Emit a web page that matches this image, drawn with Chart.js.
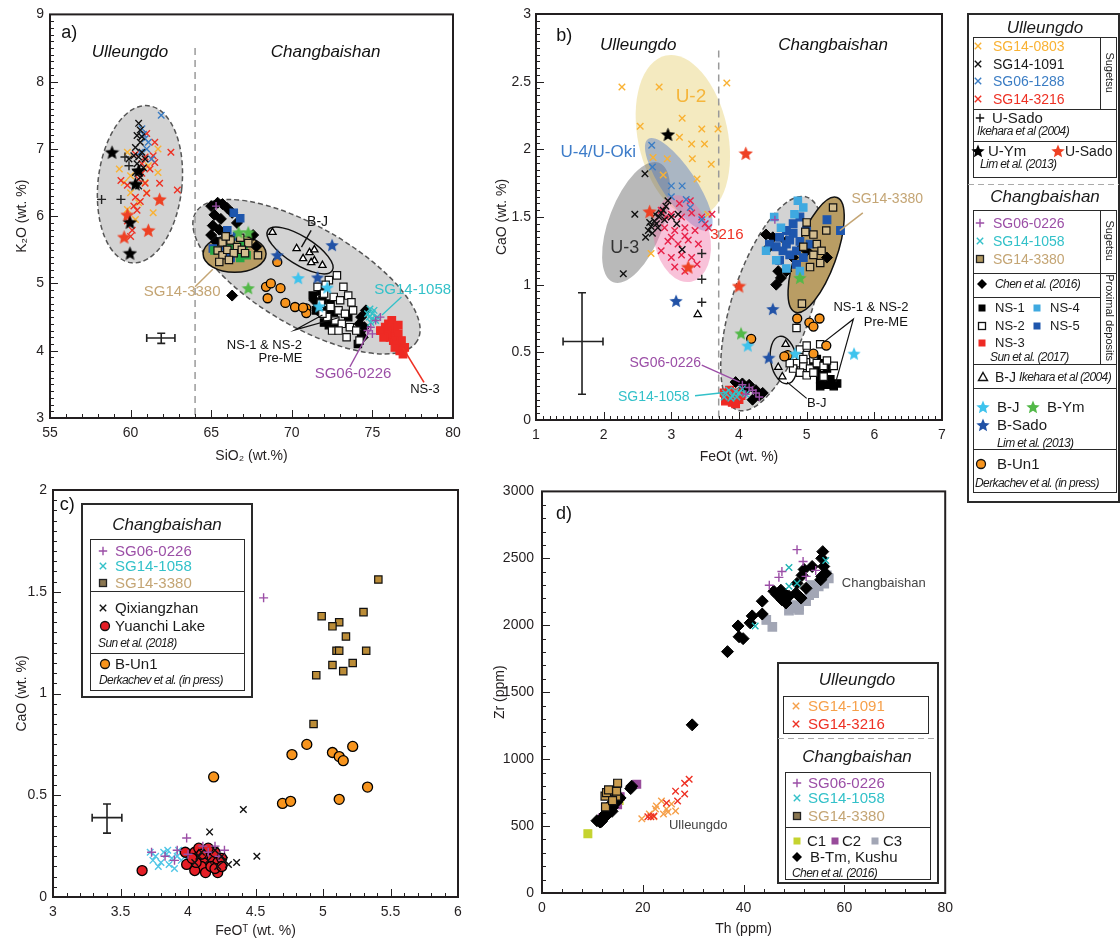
<!DOCTYPE html>
<html lang="en"><head><meta charset="utf-8"><title>Tephra geochemistry</title>
<script src="https://cdn.jsdelivr.net/npm/chart.js@4.4.1/dist/chart.umd.min.js"></script>
<style>
html,body{margin:0;padding:0;background:#fff}
body{width:1120px;height:942px;position:relative;overflow:hidden;font-family:"Liberation Sans",Arial,Helvetica,sans-serif}
canvas.ch{position:absolute;z-index:1}
#ov{position:absolute;left:0;top:0;z-index:2;pointer-events:none}
.t{position:absolute;white-space:nowrap;z-index:3;color:#1a1a1a}
</style></head><body>
<canvas class="ch" id="ca" width="470" height="470" style="left:0;top:0"></canvas>
<canvas class="ch" id="cb" width="480" height="470" style="left:480px;top:0"></canvas>
<canvas class="ch" id="cc" width="470" height="467" style="left:0;top:475px"></canvas>
<canvas class="ch" id="cd" width="480" height="467" style="left:480px;top:475px"></canvas>
<canvas id="ov" width="1120" height="942"></canvas>
<script>
// ================= DATA =================
// ---- Panel a: SiO2 (x) vs K2O (y)
const aXTicks=[55,60,65,70,75,80];
const aYTicks=[3,4,5,6,7,8,9];
const a_SG14_0803=[[59.3,6.7],[60.0,6.6],[61.7,7.0],[61.7,6.65],[61.1,6.75],[60.0,6.35],[61.0,6.35],[59.8,6.95],[60.5,6.2],[59.8,6.1],[60.9,6.5],[60.3,5.95],[61.4,6.05],[59.6,6.5]];
const a_SG14_1091=[[60.5,7.38],[60.6,7.28],[60.4,7.2],[60.6,7.1],[60.3,7.02],[60.7,6.95],[60.5,6.88],[60.4,6.78],[60.8,6.72],[60.3,6.65],[60.6,6.58],[59.9,6.85],[60.2,6.9],[60.7,7.18],[60.5,6.45],[60.9,6.85]];
const a_SG06_1288=[[61.9,7.5],[60.7,7.3],[60.9,7.15],[61.0,7.0],[61.3,6.85],[60.8,7.22],[60.6,6.95],[61.1,7.1]];
const a_SG14_3216=[[61.0,7.23],[61.5,7.1],[62.5,6.95],[61.4,6.9],[60.9,6.88],[61.5,6.8],[60.3,6.92],[60.7,6.64],[61.8,6.49],[60.9,6.49],[59.4,6.53],[59.8,6.46],[62.9,6.39],[61.0,6.34],[60.3,6.28],[60.6,6.22],[60.4,6.09],[60.2,6.15],[59.8,5.93],[60.1,5.79],[60.0,5.7],[60.7,6.78],[61.2,6.7],[60.5,6.55]];
const a_USado_Ikehara=[[58.2,6.25],[59.4,6.25],[59.65,6.88],[59.9,6.75]];
const a_UYm_Lim=[[58.85,6.95],[60.5,6.68],[60.3,6.48],[59.96,5.91],[59.96,5.45]];
const a_USado_Lim=[[61.8,6.25],[59.8,6.02],[61.1,5.79],[59.6,5.69]];
const a_Chen2016=[[65.0,6.15],[65.4,6.2],[65.7,6.18],[66.0,6.12],[66.3,6.05],[65.2,6.02],[65.6,5.96],[65.1,5.86],[65.5,5.8],[65.0,5.72],[65.8,5.76],[65.3,5.62],[66.6,5.9],[67.6,5.72],[67.8,5.55],[66.3,4.82],[74.3,4.5],[74.5,4.35],[74.4,4.2],[74.6,4.6],[74.2,4.4],[71.4,4.75],[71.6,4.6]];
const a_NS5=[[66.8,5.97],[66.0,5.79],[66.2,5.38],[65.1,5.52],[66.4,6.05],[65.9,5.55],[66.6,5.7]];
const a_green_sq=[[65.2,5.49],[66.8,5.38],[67.0,5.57],[67.2,5.42],[66.5,5.5],[66.2,5.62]];
const a_SG14_3380=[[65.7,5.61],[66.2,5.64],[66.6,5.54],[67.3,5.6],[67.9,5.42],[65.4,5.49],[65.7,5.42],[65.5,5.32],[66.0,5.5],[66.4,5.45],[66.9,5.5],[66.1,5.35],[65.9,5.7],[66.8,5.68],[67.1,5.45]];
const a_BYm=[[66.7,5.76],[67.3,5.76],[67.3,4.93]];
const a_BJ_Lim=[[70.4,5.08],[72.2,4.94],[71.7,4.66]];
const a_BSado=[[72.5,5.57],[69.1,5.42],[71.6,5.09]];
const a_BUn1=[[69.1,5.32],[68.4,4.95],[68.7,5.0],[69.3,4.93],[68.5,4.78],[69.6,4.71],[70.2,4.65],[70.9,4.63],[70.9,4.56],[70.7,4.64]];
const a_BJ_Ikehara=[[68.8,5.76],[70.3,5.52],[71.1,5.46],[71.4,5.5],[70.7,5.37],[71.4,5.34],[71.9,5.27],[71.2,5.31]];
const a_NS2=[[71.6,4.95],[72.3,5.05],[72.8,5.12],[73.2,4.95],[72.0,4.85],[72.6,4.8],[73.0,4.75],[73.5,4.82],[71.8,4.7],[72.4,4.65],[72.9,4.6],[73.3,4.55],[73.8,4.6],[72.2,4.5],[72.7,4.45],[73.1,4.4],[73.6,4.35],[74.0,4.3],[72.5,4.3],[73.4,4.2],[74.2,4.15],[71.9,4.55],[73.7,4.72],[72.1,4.98],[72.9,4.3]];
const a_NS1=[[71.3,4.82],[71.6,4.7],[71.9,4.75],[72.2,4.6],[71.5,4.6],[72.6,4.55],[72.0,4.42],[72.8,4.35],[73.5,4.5],[71.8,4.88],[72.4,4.7],[74.3,4.25],[74.1,4.1],[72.3,4.38]];
const a_NS3=[[75.8,4.35],[76.0,4.4],[76.2,4.3],[76.4,4.35],[76.6,4.25],[76.1,4.2],[76.3,4.15],[76.5,4.1],[76.8,4.15],[77.0,4.05],[76.7,4.0],[76.9,3.95],[75.9,4.25],[76.2,4.45],[76.4,4.05],[75.7,4.2],[76.6,4.38],[75.5,4.3]];
const a_SG06_0226=[[65.3,6.15],[74.9,4.35],[75.2,4.45],[74.7,4.3],[75.5,4.5],[75.0,4.25]];
const a_SG14_1058=[[74.8,4.5],[75.0,4.55],[75.2,4.45],[74.9,4.42],[75.1,4.6],[74.7,4.55],[75.3,4.5],[75.0,4.48],[74.85,4.62]];

// ---- Panel b: FeOt (x) vs CaO (y)
const bXTicks=[1,2,3,4,5,6,7];
const bYTicks=[0,0.5,1,1.5,2,2.5,3];
const b_SG14_0803=[[2.27,2.46],[2.82,2.46],[3.82,2.49],[3.16,2.23],[2.54,2.17],[3.45,2.15],[3.69,2.15],[3.12,2.09],[3.30,2.04],[3.49,2.04],[2.73,1.94],[2.94,1.93],[3.31,1.93],[3.59,1.89],[2.88,1.81],[3.38,1.78],[2.70,1.23],[3.54,1.52]];
const b_SG06_1288=[[2.71,2.03],[3.0,1.73],[3.16,1.73],[3.0,1.65],[2.72,1.87],[3.22,1.63],[3.45,1.48],[3.28,1.57]];
const b_SG14_1091=[[2.61,1.82],[2.46,1.52],[2.29,1.08],[2.66,1.40],[2.70,1.43],[2.75,1.47],[2.78,1.45],[2.82,1.50],[2.85,1.53],[2.88,1.55],[2.92,1.58],[2.95,1.62],[2.72,1.38],[2.80,1.42],[2.68,1.46],[2.76,1.52],[2.90,1.48],[3.0,1.5],[3.08,1.45],[2.62,1.35],[3.16,1.26],[3.1,1.52]];
const b_SG14_3216=[[2.85,1.55],[3.0,1.52],[3.15,1.5],[3.3,1.53],[3.45,1.5],[2.9,1.42],[3.05,1.4],[3.2,1.42],[3.35,1.4],[3.5,1.45],[2.95,1.32],[3.1,1.3],[3.25,1.33],[3.4,1.3],[2.85,1.25],[3.0,1.2],[3.15,1.22],[3.3,1.2],[3.05,1.13],[3.2,1.1],[3.38,1.15],[3.55,1.42],[3.6,1.52],[2.92,1.5],[3.12,1.6],[3.28,1.62],[3.2,1.36],[3.0,1.35]];
const b_USado_Ikehara=[[3.45,1.23],[3.45,1.04],[3.45,0.87]];
const b_BJ_Ikehara=[[3.39,0.78],[4.69,0.56],[4.58,0.39],[4.64,0.32]];
const b_UYm_Lim=[[2.95,2.11]];
const b_USado_Lim=[[4.1,1.97],[2.68,1.54],[3.25,1.13],[4.0,0.99]];
const b_BSado=[[3.07,0.88],[4.5,0.82],[4.44,0.46]];
const b_BYm=[[4.9,1.05],[4.03,0.64]];
const b_BJ_Lim=[[4.13,0.55],[4.83,0.49],[5.7,0.49]];
const b_BUn1=[[4.86,0.75],[5.04,0.72],[5.1,0.69],[5.19,0.75],[4.18,0.60],[4.72,0.48],[4.67,0.47],[5.29,0.55],[5.1,0.49]];
const b_SG14_3380=[[5.39,1.57],[4.98,1.39],[5.29,1.40],[5.1,1.37],[4.95,1.28],[5.1,1.22],[5.2,1.16],[5.05,1.13],[4.93,0.86],[5.15,1.30],[5.22,1.25],[5.0,1.46]];
const b_NS5=[[4.6,1.35],[4.7,1.3],[4.8,1.38],[4.9,1.32],[4.75,1.22],[4.85,1.25],[4.95,1.2],[4.65,1.25],[4.55,1.28],[4.8,1.45],[4.9,1.5],[5.0,1.4],[4.7,1.4],[5.5,1.4],[5.05,1.3],[4.6,1.18],[4.85,1.15],[5.3,1.48],[4.75,1.33],[4.45,1.3]];
const b_NS4=[[4.52,1.5],[4.82,1.52],[4.95,1.57],[4.55,1.18],[4.7,1.12],[4.9,1.1],[4.4,1.25],[4.62,1.42],[4.87,1.62]];
const b_Chen2016=[[4.5,1.35],[4.45,1.28],[4.58,1.1],[4.62,1.05],[4.55,1.0],[4.7,1.32],[4.8,1.2],[5.0,1.25],[4.4,1.37],[4.7,1.1],[5.3,1.2],[3.95,0.28],[4.05,0.27],[4.15,0.26],[4.25,0.22],[4.3,0.18],[4.2,0.15],[4.0,0.2],[4.35,0.2],[4.1,0.22]];
const b_NS1=[[5.15,0.45],[5.25,0.42],[5.3,0.38],[5.2,0.3],[5.3,0.26],[5.4,0.25],[5.35,0.3],[5.2,0.25],[5.1,0.42],[5.25,0.33],[5.45,0.27],[5.15,0.36]];
const b_NS2=[[4.85,0.68],[5.2,0.56],[4.9,0.52],[5.0,0.48],[5.1,0.45],[4.85,0.42],[4.95,0.4],[5.05,0.38],[5.15,0.42],[5.25,0.4],[5.4,0.4],[4.8,0.38],[4.9,0.35],[5.0,0.33],[5.1,0.35],[5.25,0.32],[4.75,0.42],[5.3,0.44],[5.0,0.55],[4.95,0.45]];
const b_NS3=[[3.78,0.2],[3.85,0.18],[3.92,0.17],[4.0,0.15],[3.8,0.14],[3.9,0.13],[3.98,0.2],[3.86,0.22],[4.03,0.18],[3.95,0.12]];
const b_SG14_1058=[[3.8,0.2],[3.85,0.22],[3.9,0.18],[3.95,0.21],[4.0,0.2],[4.05,0.23],[3.88,0.16],[3.97,0.17],[4.1,0.19],[3.78,0.17]];
const b_SG06_0226=[[4.05,0.26],[4.15,0.24],[4.25,0.2],[4.2,0.22],[4.1,0.19],[4.3,0.17],[4.53,1.48]];

// ---- Panel c: FeOT (x) vs CaO (y)
const cXTicks=[3,3.5,4,4.5,5,5.5,6];
const cYTicks=[0,0.5,1,1.5,2];
const c_SG14_3380=[[5.41,1.56],[5.30,1.40],[4.99,1.38],[5.12,1.35],[5.07,1.33],[5.17,1.28],[5.10,1.21],[5.12,1.21],[5.32,1.21],[5.22,1.15],[5.07,1.14],[5.15,1.11],[4.95,1.09],[4.93,0.85]];
const c_SG06_0226=[[4.56,1.47],[3.99,0.29],[3.73,0.22],[3.92,0.23],[4.11,0.25],[4.2,0.25],[4.27,0.23],[3.9,0.18],[4.0,0.21],[4.15,0.22],[3.83,0.2],[4.23,0.2]];
const c_SG14_1058=[[3.72,0.22],[3.76,0.2],[3.8,0.17],[3.84,0.21],[3.88,0.19],[3.92,0.2],[3.78,0.15],[3.82,0.22],[3.86,0.16],[3.9,0.14],[3.95,0.18],[3.74,0.18],[4.0,0.2],[3.85,0.23],[3.93,0.23]];
const c_Qixiangzhan=[[4.41,0.43],[4.16,0.32],[4.51,0.20],[4.36,0.17],[4.3,0.16],[4.25,0.2],[4.2,0.23],[4.1,0.22],[4.05,0.17],[4.15,0.18],[4.22,0.15],[4.08,0.2],[4.27,0.18]];
const c_Yuanchi=[[3.66,0.13],[3.98,0.22],[3.99,0.16],[4.05,0.22],[4.08,0.2],[4.12,0.18],[4.15,0.21],[4.18,0.19],[4.2,0.22],[4.22,0.17],[4.1,0.15],[4.05,0.13],[4.13,0.12],[4.22,0.12],[4.25,0.19],[4.06,0.17],[4.17,0.15],[4.08,0.24],[4.2,0.14],[4.03,0.19],[4.15,0.24],[4.25,0.15],[4.1,0.21]];
const c_BUn1=[[4.19,0.59],[4.77,0.70],[4.88,0.75],[5.07,0.71],[5.12,0.69],[5.15,0.67],[5.22,0.74],[5.33,0.54],[5.12,0.48],[4.70,0.46],[4.76,0.47]];

// ---- Panel d: Th (x) vs Zr (y)
const dXTicks=[0,20,40,60,80];
const dYTicks=[0,500,1000,1500,2000,2500,3000];
const d_BTm_Kushu=[[36.8,1803],[38.9,1995],[39.1,1914],[39.9,1900],[41.3,2018],[41.7,2070],[43.7,2084],[43.7,2180],[46.0,2254],[47.4,2262],[47.4,2203],[48.4,2166],[49.0,2217],[50.4,2240],[50.6,2313],[51.6,2373],[52.0,2417],[53.6,2439],[51.4,2203],[52.4,2276],[48.3,2230],[55.5,2365],[55.9,2439],[55.7,2550],[55.5,2500],[56.3,2387],[55.3,2340],[46.6,2230],[47.6,2190],[29.8,1256],[17.8,798],[17.6,780],[10.9,540],[11.8,555],[12.7,575],[13.3,600],[14.0,640],[14.8,687],[15.5,710],[13.6,660],[12.3,560],[11.5,530],[13.9,610],[14.8,680],[11.8,535],[12.5,590],[14.3,700]];
const d_C3=[[44.5,2040],[45.7,1988],[49.4,2128],[51.0,2114],[53.0,2225],[54.9,2291],[56.5,2373],[53.4,2300],[52.4,2180],[51.0,2140],[49.0,2110],[54.0,2240],[56.9,2350],[56.0,2310],[50.0,2150]];
const d_SG06_0226=[[50.6,2565],[51.8,2476],[45.1,2299],[47.0,2358],[47.6,2402],[52.4,2365],[54.3,2410]];
const d_SG14_1058=[[49.0,2432],[49.0,2291],[50.6,2313],[42.3,1995],[56.3,2483]];
const d_SG14_3380=[[15.0,820],[13.4,761],[12.5,724],[12.8,750],[13.2,770],[14.8,724],[14.8,760],[12.6,643],[14.0,690]];
const d_C2=[[18.8,813],[15.0,660],[12.0,560],[13.5,620],[15.5,720]];
const d_C1=[[9.1,443],[15.3,690]];
const d_SG14_1091=[[19.8,554],[21.3,591],[22.5,628],[23.7,687],[24.7,628],[25.7,665],[26.5,613],[24.1,591],[22.2,569],[25.0,605],[22.7,650]];
const d_SG14_3216=[[21.0,569],[21.6,569],[22.2,576],[24.7,672],[26.5,761],[26.9,687],[28.3,739],[28.3,820],[29.2,850]];

// ================= STYLES =================
const COL={yel:'#f9b234',blk:'#111',blu:'#3b7dc4',red:'#ee3124',pink:'#e8234a',pur:'#9b4ea6',cyan:'#33c1c9',
 tanA:'#d3bd8f',tanC:'#bb8c37',tanD:'#c99c4f',tanTxt:'#c4a574',ns4:'#3fa9e0',ns5:'#1e56ad',ns3:'#ee2a24',green:'#27a844',
 lb:'#3ec3ed',gs:'#52b848',db:'#2152a6',rs:'#ee4124',ora:'#f7941d',yuan:'#e41e26',c1:'#c5d32f',c2:'#984b9a',c3:'#a2a6b5',ora2:'#f6a04a'};
const FONT='"Liberation Sans", Arial, sans-serif';
Chart.defaults.font.family=FONT;

function starImg(color,size){const c=document.createElement('canvas');c.width=c.height=size;const g=c.getContext('2d');const R=size/2,r=R*0.45;g.beginPath();for(let i=0;i<10;i++){const a=-Math.PI/2+i*Math.PI/5,rr=i%2?r:R;g.lineTo(R+rr*Math.cos(a),R+0.6+rr*Math.sin(a));}g.closePath();g.fillStyle=color;g.fill();return c;}
const P=a=>a.map(([x,y])=>({x,y}));
const X=(c,r=4.6)=>({pointStyle:'crossRot',radius:r,borderColor:c,backgroundColor:c,borderWidth:1.4});
const PL=(c,r=4)=>({pointStyle:'cross',radius:r,borderColor:c,backgroundColor:c,borderWidth:1.4});
const SQ=(f,b,r=5,w=1.2)=>({pointStyle:'rect',radius:r,backgroundColor:f,borderColor:b,borderWidth:w});
const DI=(r=5)=>({pointStyle:'rectRot',radius:r,backgroundColor:'#000',borderColor:'#000',borderWidth:1});
const CI=(f,r=4.5)=>({pointStyle:'circle',radius:r,backgroundColor:f,borderColor:'#000',borderWidth:1.3});
const TR=(r=4.2)=>({pointStyle:'triangle',radius:r,backgroundColor:'#fff',borderColor:'#000',borderWidth:1.3});
const ST=(c,s=14)=>({pointStyle:starImg(c,s),radius:s/2});
const D=(data,style)=>Object.assign({data:P(data),pointHoverRadius:0},style);

// ================= PLUGINS (closures, so options are not proxied) =================
function drawItems(chart,items){
 const {ctx,scales:{x,y}}=chart;const PX=v=>x.getPixelForValue(v),PY=v=>y.getPixelForValue(v);
 for(const it of items){
  ctx.save();
  ctx.setLineDash(it.dash||[]);
  if(it.t==='ell'){ctx.beginPath();ctx.ellipse(PX(it.x),PY(it.y),it.rx,it.ry,it.rot*Math.PI/180,0,2*Math.PI);
   if(it.fill){ctx.fillStyle=it.fill;ctx.fill();}
   if(it.stroke){ctx.strokeStyle=it.stroke;ctx.lineWidth=it.lw||1.4;ctx.stroke();}}
  else if(it.t==='line'){ctx.beginPath();it.p.forEach(([a,b],i)=>i?ctx.lineTo(PX(a),PY(b)):ctx.moveTo(PX(a),PY(b)));ctx.strokeStyle=it.c||'#111';ctx.lineWidth=it.lw||1.2;ctx.stroke();}
  else if(it.t==='text'){ctx.font=it.f;ctx.fillStyle=it.c||'#111';ctx.textAlign=it.a||'center';ctx.textBaseline='middle';ctx.fillText(it.s,PX(it.x),PY(it.y));}
  else if(it.t==='err'){const cx=PX(it.x),cy=PY(it.y),xl=PX(it.x0),xr=PX(it.x1),yt=PY(it.y1),yb=PY(it.y0),c=it.cap||4;
   ctx.strokeStyle='#222';ctx.lineWidth=1.6;ctx.beginPath();
   ctx.moveTo(xl,cy);ctx.lineTo(xr,cy);ctx.moveTo(xl,cy-c);ctx.lineTo(xl,cy+c);ctx.moveTo(xr,cy-c);ctx.lineTo(xr,cy+c);
   ctx.moveTo(cx,yt);ctx.lineTo(cx,yb);ctx.moveTo(cx-c,yt);ctx.lineTo(cx+c,yt);ctx.moveTo(cx-c,yb);ctx.lineTo(cx+c,yb);ctx.stroke();}
  ctx.restore();
 }
}
const annotPlugin=ann=>({id:'annot',beforeDatasetsDraw(ch){drawItems(ch,ann.under||[]);},afterDatasetsDraw(ch){drawItems(ch,ann.over||[]);}});
const framePlugin=o=>({id:'frame',afterDraw(ch){
 const {ctx,chartArea:{left,right,top,bottom},scales:{x,y}}=ch;
 ctx.save();ctx.strokeStyle='#231f20';ctx.lineWidth=1;
 const nx=Math.round((x.max-x.min)/o.xm);
 for(let i=0;i<=nx;i++){const v=x.min+i*o.xm,maj=Math.abs(v/o.xM-Math.round(v/o.xM))<1e-6,p=Math.round(x.getPixelForValue(v))+0.5;ctx.beginPath();ctx.moveTo(p,bottom);ctx.lineTo(p,bottom-(maj?8:4));ctx.stroke();}
 const ny=Math.round((y.max-y.min)/o.ym);
 for(let i=0;i<=ny;i++){const v=y.min+i*o.ym,maj=Math.abs(v/o.yM-Math.round(v/o.yM))<1e-6,p=Math.round(y.getPixelForValue(v))+0.5;ctx.beginPath();ctx.moveTo(left,p);ctx.lineTo(left+(maj?8:4),p);ctx.stroke();}
 ctx.lineWidth=2;ctx.strokeRect(left,top,right-left,bottom-top);
 ctx.restore();}});

function mk(id,c){
 const tk=arr=>(s=>{s.ticks=arr.map(v=>({value:v}));});
 return new Chart(document.getElementById(id),{type:'scatter',data:{datasets:c.ds},plugins:[annotPlugin(c.ann),framePlugin(c.fr)],
  options:{responsive:false,animation:false,events:[],devicePixelRatio:1,
   layout:{padding:{left:0,top:c.pt,right:c.pr,bottom:0}},
   plugins:{legend:{display:false},tooltip:{enabled:false}},
   scales:{
    x:{type:'linear',position:'bottom',min:c.xt[0],max:c.xt[c.xt.length-1],afterBuildTicks:tk(c.xt),
     ticks:{padding:c.xpad||7,font:{size:14},color:'#231f20',autoSkip:false,maxRotation:0,callback:v=>String(+(+v).toFixed(2))},
     grid:{display:false,drawTicks:false},border:{display:false},
     title:{display:true,text:c.xtitle,font:{size:14},color:'#231f20',padding:{top:0,bottom:c.xtb}},
     afterFit(s){s.height=c.xh;}},
    y:{type:'linear',position:'left',min:c.yt[0],max:c.yt[c.yt.length-1],afterBuildTicks:tk(c.yt),
     ticks:{padding:c.ypad||6,font:{size:14},color:'#231f20',autoSkip:false,callback:v=>String(+(+v).toFixed(2))},
     grid:{display:false,drawTicks:false},border:{display:false},
     title:{display:true,text:c.ytitle,font:{size:14},color:'#231f20',padding:{top:c.ytp,bottom:0}},
     afterFit(s){s.width=c.yw;}}
   }}});
}
const IT='italic 17px '+FONT;
const GREY={fill:'#d3d3d3',stroke:'#555',dash:[5,3],lw:1.5};

// ---- Panel a
mk('ca',{pt:14,pr:17,xh:52,yw:50,xtb:5,ytp:14,xt:aXTicks,yt:aYTicks,xtitle:'SiO\u2082 (wt.%)',ytitle:'K\u2082O (wt. %)',
 fr:{xm:1,xM:5,ym:0.1,yM:1},
 ds:[D(a_SG06_0226,PL(COL.pur)),D(a_SG14_1058,X(COL.cyan)),D(a_BJ_Lim,ST(COL.lb)),D(a_BSado,ST(COL.db)),D(a_BYm,ST(COL.gs)),
  D(a_UYm_Lim,ST('#000',15)),D(a_USado_Lim,ST(COL.rs,15)),D(a_SG14_3380,SQ(COL.tanA,'#111',5.2)),D(a_BUn1,CI(COL.ora)),
  D(a_BJ_Ikehara,TR()),D(a_NS2,SQ('#fff','#111',5.2)),D(a_NS1,SQ('#000','#000',5.2)),D(a_NS3,SQ(COL.ns3,COL.ns3,5.4)),
  D(a_green_sq,SQ(COL.green,COL.green,5.2)),D(a_NS5,SQ(COL.ns5,COL.ns5,5.2)),D(a_Chen2016,DI(5.5)),
  D(a_USado_Ikehara,PL('#222',4.5)),D(a_SG14_1091,X('#111')),D(a_SG06_1288,X(COL.blu)),D(a_SG14_3216,X(COL.red)),D(a_SG14_0803,X(COL.yel))],
 ann:{under:[
  Object.assign({t:'ell',x:60.58,y:6.475,rx:42,ry:79,rot:6},GREY),
  Object.assign({t:'ell',x:70.91,y:5.10,rx:128,ry:50,rot:30},GREY),
  {t:'line',p:[[64,8.5],[64,3]],c:'#9a9a9a',dash:[7,5],lw:1.5},
  {t:'ell',x:66.45,y:5.44,rx:31.5,ry:18.5,rot:0,fill:'#b99d64',stroke:'#111',lw:1.5},
  {t:'ell',x:70.51,y:5.49,rx:38,ry:14,rot:32,stroke:'#111',lw:1.5}],
 over:[
  {t:'text',x:55.7,y:8.72,s:'a)',f:'18px '+FONT,a:'left'},
  {t:'text',x:59.96,y:8.44,s:'Ulleungdo',f:IT},
  {t:'text',x:72.1,y:8.44,s:'Changbaishan',f:IT},
  {t:'text',x:71.6,y:5.91,s:'B-J',f:'14px '+FONT},{t:'line',p:[[71.2,5.79],[70.6,5.54]],lw:1.4},
  {t:'text',x:63.2,y:4.87,s:'SG14-3380',f:'15px '+FONT,c:COL.tanTxt},{t:'line',p:[[64.0,4.95],[65.1,5.21]],c:COL.tanTxt,lw:1.5},
  {t:'text',x:68.3,y:4.08,s:'NS-1 & NS-2',f:'13px '+FONT},{t:'text',x:69.3,y:3.89,s:'Pre-ME',f:'13px '+FONT},
  {t:'line',p:[[71.9,4.53],[70.2,4.31],[72.9,4.49]],lw:1.2},
  {t:'text',x:73.8,y:3.65,s:'SG06-0226',f:'15px '+FONT,c:COL.pur},{t:'line',p:[[73.6,3.76],[74.85,4.31]],c:COL.pur,lw:1.3},
  {t:'text',x:78.26,y:3.43,s:'NS-3',f:'13px '+FONT},{t:'line',p:[[78.2,3.53],[76.9,4.04]],c:COL.red,lw:1.6},
  {t:'text',x:77.5,y:4.9,s:'SG14-1058',f:'15px '+FONT,c:COL.cyan},{t:'line',p:[[76.8,4.8],[75.6,4.53]],c:COL.cyan,lw:1.3},
  {t:'err',x:61.9,y:4.19,x0:61.0,x1:62.75,y0:4.11,y1:4.26,cap:4}]}});

// ---- Panel b
mk('cb',{pt:14,pr:18,xh:50,yw:56,xtb:4,ytp:14,ypad:5,xt:bXTicks,yt:bYTicks,xtitle:'FeOt (wt. %)',ytitle:'CaO (wt. %)',
 fr:{xm:0.1,xM:1,ym:0.05,yM:0.5},
 ds:[D(b_SG06_0226,PL(COL.pur)),D(b_SG14_1058,X(COL.cyan)),D(b_BJ_Lim,ST(COL.lb)),D(b_BSado,ST(COL.db)),D(b_BYm,ST(COL.gs)),
  D(b_UYm_Lim,ST('#000',15)),D(b_USado_Lim,ST(COL.rs,15)),D(b_USado_Ikehara,PL('#222',4.5)),D(b_BJ_Ikehara,TR()),D(b_BUn1,CI(COL.ora)),
  D(b_SG14_3380,SQ(COL.tanA,'#111',5.2)),D(b_NS2,SQ('#fff','#111',5.2)),D(b_NS1,SQ('#000','#000',5.2)),D(b_NS3,SQ(COL.ns3,COL.ns3,5.4)),
  D(b_NS4,SQ(COL.ns4,COL.ns4,5.2)),D(b_NS5,SQ(COL.ns5,COL.ns5,5.4)),D(b_Chen2016,DI(5.5)),
  D(b_SG14_1091,X('#111')),D(b_SG06_1288,X(COL.blu)),D(b_SG14_3216,X(COL.pink)),D(b_SG14_0803,X(COL.yel))],
 ann:{under:[
  {t:'ell',x:3.17,y:2.10,rx:45,ry:82,rot:-12,fill:'rgba(236,220,150,0.6)'},
  {t:'ell',x:2.48,y:1.46,rx:27,ry:64,rot:21,fill:'rgba(100,100,100,0.45)'},
  {t:'ell',x:3.11,y:1.74,rx:17,ry:55,rot:-34,fill:'rgba(80,120,200,0.45)'},
  {t:'ell',x:3.16,y:1.34,rx:28,ry:44,rot:-12,fill:'rgba(240,120,170,0.45)'},
  Object.assign({t:'ell',x:4.49,y:0.86,rx:40,ry:112,rot:18},GREY),
  {t:'line',p:[[3.7,2.73],[3.7,0]],c:'#9a9a9a',dash:[7,5],lw:1.5},
  {t:'ell',x:5.14,y:1.22,rx:20,ry:61,rot:20,fill:'#b99d64',stroke:'#111',lw:1.5},
  {t:'ell',x:4.66,y:0.443,rx:13,ry:24,rot:-10,stroke:'#111',lw:1.4}],
 over:[
  {t:'text',x:1.3,y:2.84,s:'b)',f:'18px '+FONT,a:'left'},
  {t:'text',x:2.51,y:2.77,s:'Ulleungdo',f:IT},
  {t:'text',x:5.39,y:2.77,s:'Changbaishan',f:IT},
  {t:'text',x:3.29,y:2.39,s:'U-2',f:'19px '+FONT,c:'#f5b63c'},
  {t:'text',x:1.92,y:1.98,s:'U-4/U-Oki',f:'17px '+FONT,c:'#3d7cc9'},
  {t:'text',x:2.31,y:1.27,s:'U-3',f:'18px '+FONT,c:'#333'},
  {t:'text',x:3.82,y:1.37,s:'3216',f:'15px '+FONT,c:COL.red},
  {t:'text',x:6.19,y:1.63,s:'SG14-3380',f:'14px '+FONT,c:COL.tanTxt},{t:'line',p:[[5.83,1.53],[5.49,1.40]],c:COL.tanTxt,lw:1.5},
  {t:'text',x:5.95,y:0.83,s:'NS-1 & NS-2',f:'13px '+FONT},{t:'text',x:6.17,y:0.72,s:'Pre-ME',f:'13px '+FONT},
  {t:'line',p:[[5.24,0.57],[5.69,0.745],[5.43,0.28]],lw:1.2},
  {t:'text',x:2.91,y:0.42,s:'SG06-0226',f:'14px '+FONT,c:COL.pur},{t:'line',p:[[3.45,0.405],[4.01,0.28]],c:COL.pur,lw:1.3},
  {t:'text',x:2.74,y:0.17,s:'SG14-1058',f:'14px '+FONT,c:COL.cyan},{t:'line',p:[[3.35,0.18],[3.82,0.205]],c:COL.cyan,lw:1.5},
  {t:'text',x:5.15,y:0.125,s:'B-J',f:'13px '+FONT},{t:'line',p:[[5.0,0.16],[4.71,0.28]],lw:1.2},
  {t:'err',x:1.68,y:0.58,x0:1.4,x1:1.99,y0:0.19,y1:0.94,cap:4}]}});

// ---- Panel c
mk('cc',{pt:15,pr:12,xh:45,yw:53,xtb:2,ytp:14,xt:cXTicks,yt:cYTicks,xtitle:'FeO\u1D40 (wt. %)',ytitle:'CaO (wt. %)',
 fr:{xm:0.1,xM:0.5,ym:0.05,yM:0.5},
 ds:[D(c_SG14_3380,SQ(COL.tanC,'#111',5.2)),D(c_BUn1,CI(COL.ora,5)),D(c_Qixiangzhan,X('#111')),D(c_SG06_0226,PL(COL.pur,4.5)),
  D(c_Yuanchi,CI(COL.yuan,5)),D(c_SG14_1058,X('#4fc6e6'))],
 ann:{over:[{t:'text',x:3.05,y:1.926,s:'c)',f:'18px '+FONT,a:'left'},
  {t:'err',x:3.40,y:0.39,x0:3.29,x1:3.51,y0:0.314,y1:0.457,cap:4}]}});

// ---- Panel d
mk('cd',{pt:12,pr:13,xh:49,yw:62,xtb:4,ytp:12,ypad:8,xt:dXTicks,yt:dYTicks,xtitle:'Th (ppm)',ytitle:'Zr (ppm)',
 fr:{xm:4,xM:20,ym:100,yM:500},
 ds:[D(d_SG06_0226,PL(COL.pur,4.5)),D(d_SG14_1058,X('#1fb3b3')),D(d_SG14_3380,SQ(COL.tanD,'#111',5.6)),D(d_BTm_Kushu,DI(6)),
  D(d_C3,SQ(COL.c3,COL.c3,6)),D(d_C2,SQ(COL.c2,COL.c2,5.5)),D(d_C1,SQ(COL.c1,COL.c1,5.5)),D(d_SG14_3216,X(COL.red)),D(d_SG14_1091,X(COL.ora2))],
 ann:{over:[{t:'text',x:2.8,y:2831,s:'d)',f:'18px '+FONT,a:'left'},
  {t:'text',x:67.8,y:2313,s:'Changbaishan',f:'13px '+FONT,c:'#444'},
  {t:'text',x:31.0,y:503,s:'Ulleungdo',f:'13px '+FONT,c:'#444'}]}});

// ================= LEGENDS (overlay) =================
const g=document.getElementById('ov').getContext('2d');
function rect(l,t,r,b,lw,fill){if(fill){g.fillStyle=fill;g.fillRect(l,t,r-l,b-t);}g.setLineDash([]);g.lineWidth=lw;g.strokeStyle='#2a2a2a';g.strokeRect(l,t,r-l,b-t);}
function hl(x0,x1,y,dash,col){g.setLineDash(dash||[]);g.lineWidth=1;g.strokeStyle=col||'#2a2a2a';g.beginPath();g.moveTo(x0,y);g.lineTo(x1,y);g.stroke();g.setLineDash([]);}
function vl(x,y0,y1){g.lineWidth=1;g.strokeStyle='#2a2a2a';g.beginPath();g.moveTo(x,y0);g.lineTo(x,y1);g.stroke();}
function sym(x,y,type,color){
 g.save();g.setLineDash([]);g.lineWidth=1.4;g.strokeStyle=color;g.fillStyle=color;g.beginPath();
 if(type==='x'){const r=3.2;g.moveTo(x-r,y-r);g.lineTo(x+r,y+r);g.moveTo(x-r,y+r);g.lineTo(x+r,y-r);g.stroke();}
 else if(type==='+'){const r=4.2;g.moveTo(x-r,y);g.lineTo(x+r,y);g.moveTo(x,y-r);g.lineTo(x,y+r);g.stroke();}
 else if(type==='fsq'){g.fillRect(x-3.5,y-3.5,7,7);}
 else if(type==='tsq'){g.fillRect(x-3.5,y-3.5,7,7);g.lineWidth=1.3;g.strokeStyle='#222';g.strokeRect(x-3.5,y-3.5,7,7);}
 else if(type==='osq'){g.fillStyle='#fff';g.fillRect(x-3.5,y-3.5,7,7);g.lineWidth=1.3;g.strokeStyle='#111';g.strokeRect(x-3.5,y-3.5,7,7);}
 else if(type==='dia'){const r=5;g.moveTo(x,y-r);g.lineTo(x+r,y);g.lineTo(x,y+r);g.lineTo(x-r,y);g.closePath();g.fillStyle='#000';g.fill();}
 else if(type==='circ'){g.arc(x,y,4.5,0,2*Math.PI);g.fill();g.lineWidth=1.3;g.strokeStyle='#111';g.stroke();}
 else if(type==='tri'){g.moveTo(x,y-4.5);g.lineTo(x+4.5,y+3.5);g.lineTo(x-4.5,y+3.5);g.closePath();g.fillStyle='#fff';g.fill();g.lineWidth=1.4;g.strokeStyle='#111';g.stroke();}
 else if(type==='star'){g.drawImage(starImg(color,14),x-7,y-7);}
 g.restore();
}
function T(x,y,txt,o){o=o||{};const fs=o.fs||14;const d=document.createElement('div');d.className='t';d.textContent=txt;
 d.style.cssText=`left:${x}px;top:${y-fs*0.6}px;font-size:${fs}px;line-height:${fs*1.2}px;color:${o.c||'#1a1a1a'};`+(o.i?'font-style:italic;':'')+(o.css||'');
 document.body.appendChild(d);return d;}
const TC=(x,y,txt,o)=>T(x,y,txt,Object.assign({},o,{css:((o&&o.css)||'')+'transform:translateX(-50%);'}));
const CIT={fs:12,i:true,css:'letter-spacing:-0.6px;'};
function ROT(x,y,txt){return T(x,y,txt,{fs:11,css:'transform:translate(-50%,0) rotate(90deg);transform-origin:50% 50%;'});}

// Right legend
rect(968,14,1119,502,2,'#fff');
TC(1045,28,'Ulleungdo',{fs:17,i:true});
rect(973.5,37.5,1116.5,177.5,1);hl(973,1116,109.5);hl(973,1116,141.5);vl(1100.5,37,109);
sym(978,46,'x',COL.yel);T(993,46,'SG14-0803',{c:COL.yel});
sym(978,64,'x','#111');T(993,64,'SG14-1091');
sym(978,81,'x',COL.blu);T(993,81,'SG06-1288',{c:COL.blu});
sym(978,99,'x',COL.red);T(993,99,'SG14-3216',{c:COL.red});
ROT(1109,73,'Sugetsu');
sym(980,118,'+','#111');T(992,118,'U-Sado',{fs:15});
T(977,131,'Ikehara et al (2004)',CIT);
sym(978,151,'star','#000');T(988,151,'U-Ym',{fs:15});sym(1058,151,'star',COL.rs);T(1065,151,'U-Sado',{fs:14});
T(980,164,'Lim et al. (2013)',CIT);
hl(968,1119,184.5,[6,4],'#aaa');
TC(1045,197,'Changbaishan',{fs:17,i:true});
rect(973.5,210.5,1116.5,492.5,1);vl(1100.5,210,364);hl(973,1116,273.5);hl(973,1100,297.5);hl(973,1116,364.5);hl(973,1116,388.5);hl(973,1116,449.5);
sym(980,223,'+',COL.pur);T(993,223,'SG06-0226',{c:COL.pur});
sym(980,241,'x',COL.cyan);T(993,241,'SG14-1058',{c:COL.cyan});
sym(980,259,'tsq','#b0975f');T(993,259,'SG14-3380',{c:COL.tanTxt});
ROT(1109,241,'Sugetsu');
sym(982,284,'dia','#000');T(995,284,'Chen et al. (2016)',CIT);
sym(982,308,'fsq','#000');T(995,308,'NS-1',{fs:13});sym(1037,308,'fsq',COL.ns4);T(1050,308,'NS-4',{fs:13});
sym(982,326,'osq','#000');T(995,326,'NS-2',{fs:13});sym(1037,326,'fsq',COL.ns5);T(1050,326,'NS-5',{fs:13});
sym(982,343,'fsq',COL.ns3);T(995,343,'NS-3',{fs:13});
T(990,357,'Sun et al. (2017)',CIT);
ROT(1109,318,'Proximal deposits');
sym(983,377,'tri','#000');T(995,377,'B-J',{fs:14});T(1019,377,'Ikehara et al (2004)',CIT);
sym(983,407,'star',COL.lb);T(997,407,'B-J',{fs:15});sym(1033,407,'star',COL.gs);T(1047,407,'B-Ym',{fs:15});
sym(983,425,'star',COL.db);T(997,425,'B-Sado',{fs:15});
T(997,443,'Lim et al. (2013)',CIT);
sym(981,464,'circ',COL.ora);T(997,464,'B-Un1',{fs:15});
T(975,483,'Derkachev et al. (in press)',CIT);

// Panel c legend
rect(82,504,252,697,2,'#fff');
TC(167,525,'Changbaishan',{fs:17,i:true});
rect(90.5,539.5,244.5,690.5,1);hl(90,244,591.5);hl(90,244,653.5);
sym(103,551,'+',COL.pur);T(115,551,'SG06-0226',{fs:15,c:COL.pur});
sym(103,566,'x',COL.cyan);T(115,566,'SG14-1058',{fs:15,c:COL.cyan});
sym(103,583,'tsq','#8a7650');T(115,583,'SG14-3380',{fs:15,c:COL.tanTxt});
sym(103,608,'x','#111');T(115,608,'Qixiangzhan',{fs:15});
sym(105,626,'circ',COL.yuan);T(115,626,'Yuanchi Lake',{fs:15});
T(98,643,'Sun et al. (2018)',CIT);
sym(105,664,'circ',COL.ora);T(115,664,'B-Un1',{fs:15});
T(99,680,'Derkachev et al. (in press)',CIT);

// Panel d legend
rect(778,663,938,883,2,'#fff');
TC(857,680,'Ulleungdo',{fs:17,i:true});
rect(783.5,696.5,928.5,733.5,1);
sym(796,706,'x',COL.ora2);T(808,706,'SG14-1091',{fs:15,c:COL.ora2});
sym(796,724,'x',COL.red);T(808,724,'SG14-3216',{fs:15,c:COL.red});
hl(778,938,738.5,[6,4],'#aaa');
TC(857,757,'Changbaishan',{fs:17,i:true});
rect(785.5,772.5,930.5,879.5,1);hl(785,930,827.5);
sym(797,783,'+',COL.pur);T(808,783,'SG06-0226',{fs:15,c:COL.pur});
sym(797,798,'x',COL.cyan);T(808,798,'SG14-1058',{fs:15,c:COL.cyan});
sym(797,816,'tsq','#8a7650');T(808,816,'SG14-3380',{fs:15,c:COL.tanTxt});
sym(797,841,'fsq',COL.c1);T(807,841,'C1',{fs:15});sym(835,841,'fsq',COL.c2);T(842,841,'C2',{fs:15});sym(875,841,'fsq',COL.c3);T(883,841,'C3',{fs:15});
sym(797,857,'dia','#000');T(810,857,'B-Tm, Kushu',{fs:15});
T(792,873,'Chen et al. (2016)',CIT);
</script></body></html>
